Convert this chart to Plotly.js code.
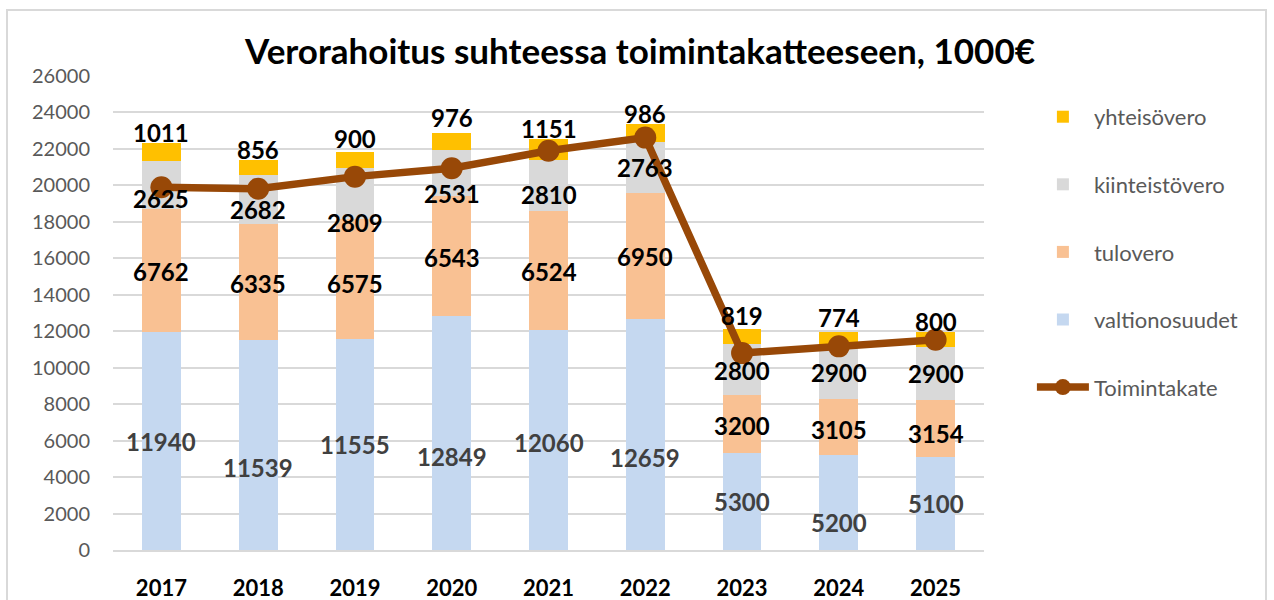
<!DOCTYPE html>
<html>
<head>
<meta charset="utf-8">
<script src="https://cdn.plot.ly/plotly-3.0.1.min.js"></script>
<style>
  html, body { margin: 0; padding: 0; background: #ffffff; }
  #wrap { position: relative; width: 1274px; height: 600px; overflow: hidden; }
  #chart { position: absolute; left: 0; top: 0; width: 1274px; height: 600px; }
  #frame { position: absolute; left: 6px; top: 9px; width: 1261px; height: 620px; border: 2px solid #D9D9D9; box-sizing: border-box; pointer-events: none; }
</style>
</head>
<body>
<div id="wrap">
  <div id="chart"></div>
  <div id="frame"></div>
</div>
<script>
// ---- data ----
const years = ['2017', '2018', '2019', '2020', '2021', '2022', '2023', '2024', '2025'];
const valtionosuudet = [11940, 11539, 11555, 12849, 12060, 12659, 5300, 5200, 5100];
const tulovero = [6762, 6335, 6575, 6543, 6524, 6950, 3200, 3105, 3154];
const kiinteistovero = [2625, 2682, 2809, 2531, 2810, 2763, 2800, 2900, 2900];
const yhteisovero = [1011, 856, 900, 976, 1151, 986, 819, 774, 800];
const toimintakate = [19900, 19820, 20480, 20940, 21900, 22620, 10800, 11170, 11530];

// label vertical nudges (pixels), as placed in the original chart
const valShift = [0, -23, 0, -24, -2, -23, 0, -20, 0];
const tuloShift = [-1, -2, -4, -1, -1, -1, -1, -3, -5];
const kiintShift = [-13, -10, -29, -20, -9, 0, -1, 0, 0];
const yhteisShift = [10, 10, 13, 15, 10, 11, 14, 14, 11];

const FONT = 'Lato, "Open Sans", sans-serif';
const colors = {
  valt: '#C5D8F0',
  tulo: '#F9C193',
  kiint: '#D9D9D9',
  yht: '#FFC000',
  line: '#984807'
};

function barTrace(name, vals, color, rank) {
  return {
    type: 'bar', name: name, x: years, y: vals,
    marker: { color: color },
    legendrank: rank, legendgroup: name,
    hoverinfo: 'x+y+name'
  };
}

const traces = [
  barTrace('valtionosuudet', valtionosuudet, colors.valt, 4),
  barTrace('tulovero', tulovero, colors.tulo, 3),
  barTrace('kiinteistövero', kiinteistovero, colors.kiint, 2),
  barTrace('yhteisövero', yhteisovero, colors.yht, 1),
  {
    type: 'scatter', mode: 'lines+markers', name: 'Toimintakate',
    x: years, y: toimintakate,
    line: { color: colors.line, width: 7.5 },
    marker: { color: colors.line, size: 22 },
    legendrank: 5, legendgroup: 'Toimintakate'
  }
];

// data labels (x given as category index)
const annotations = [];
for (let i = 0; i < years.length; i++) {
  const b1 = valtionosuudet[i];
  const b2 = b1 + tulovero[i];
  const b3 = b2 + kiinteistovero[i];
  const b4 = b3 + yhteisovero[i];
  const lab = (y, v, shift, color) => ({
    x: i, y: y, xref: 'x', yref: 'y',
    text: String(v), showarrow: false, yshift: shift,
    xanchor: 'center', yanchor: 'middle',
    font: { family: FONT, size: 24, color: color, weight: 'bold' }
  });
  annotations.push(lab(b1 / 2, valtionosuudet[i], valShift[i], '#404040'));
  annotations.push(lab(b1 + tulovero[i] / 2, tulovero[i], tuloShift[i], '#000000'));
  annotations.push(lab(b2 + kiinteistovero[i] / 2, kiinteistovero[i], kiintShift[i], '#000000'));
  annotations.push(lab(b4, yhteisovero[i], yhteisShift[i], '#000000'));
}

const layout = {
  width: 1274, height: 600,
  paper_bgcolor: '#ffffff', plot_bgcolor: '#ffffff',
  margin: { l: 113, r: 290, t: 76, b: 50 },
  barmode: 'stack',
  bargap: 0.6,
  font: { family: FONT },
  title: {
    text: '<b>Verorahoitus suhteessa toimintakatteeseen, 1000€</b>',
    font: { family: FONT, size: 35, color: '#000000' },
    x: 0.5024, xanchor: 'center', xref: 'container',
    y: 0.913, yanchor: 'middle', yref: 'container'
  },
  xaxis: {
    type: 'category',
    range: [-0.5, years.length - 0.5],
    showgrid: false, zeroline: false,
    showline: true, linecolor: '#D9D9D9', linewidth: 2,
    ticks: '',
    tickfont: { family: FONT, size: 22, color: '#000000', weight: 'bold' },
    ticklabelstandoff: 18
  },
  yaxis: {
    range: [0, 26000], dtick: 2000, tick0: 0,
    tickformat: 'd',
    showgrid: true, gridcolor: '#D9D9D9', gridwidth: 2,
    zeroline: false, showline: false,
    ticks: '',
    tickfont: { family: FONT, size: 20, color: '#595959' },
    ticklabelstandoff: 22
  },
  legend: {
    x: 1.055, xanchor: 'left', y: 0.958, yanchor: 'top',
    traceorder: 'grouped',
    tracegroupgap: 36,
    font: { family: FONT, size: 22, color: '#595959' },
    itemwidth: 52,
    bgcolor: 'rgba(0,0,0,0)'
  },
  annotations: annotations,
  showlegend: true
};

Plotly.newPlot('chart', traces, layout, { displayModeBar: false, staticPlot: true });
</script>
</body>
</html>
